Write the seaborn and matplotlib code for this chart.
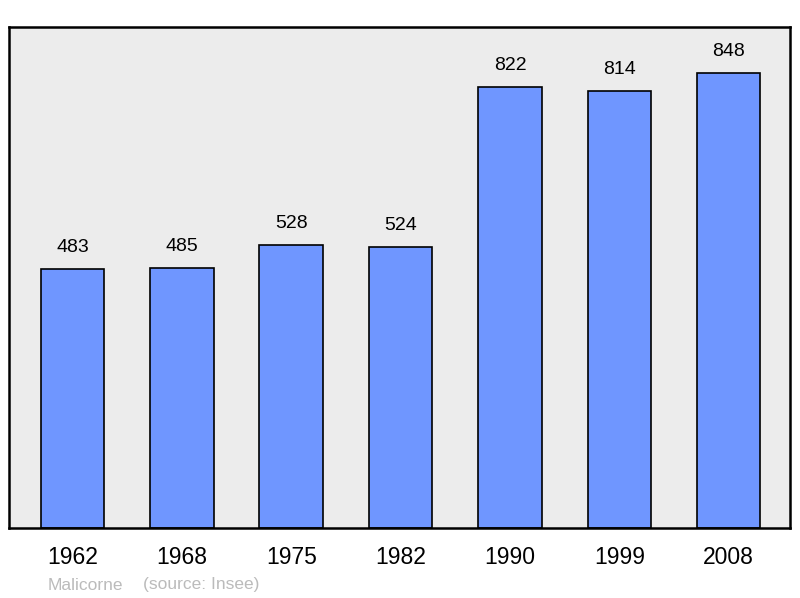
import matplotlib
matplotlib.use("Agg")
import matplotlib.pyplot as plt
import seaborn as sns
import pandas as pd

years = ["1962", "1968", "1975", "1982", "1990", "1999", "2008"]
population = [483, 485, 528, 524, 822, 814, 848]
place = "Malicorne"
source = "(source: Insee)"

sns.set_theme(style="white")
plt.rcParams['font.family'] = ['Liberation Sans', 'DejaVu Sans']

df = pd.DataFrame({"year": years, "pop": population})

fig = plt.figure(figsize=(8, 5.98), dpi=100)
ax = fig.add_axes([9/800, 1 - 528/598, 781/800, 501/598])
ax.set_facecolor("#ececec")

sns.barplot(data=df, x="year", y="pop", ax=ax, color="#6f96ff",
            saturation=1, width=0.58, edgecolor="black", linewidth=1.2)

ax.set_xlim(-0.58, 6.56)
ax.set_ylim(0, 934)
ax.set_yticks([])
ax.set_xlabel("")
ax.set_ylabel("")
ax.tick_params(axis="x", length=0, labelsize=16.5, pad=13, colors="black")
for s in ax.spines.values():
    s.set_color("black")
    s.set_linewidth(1.8)

for i, v in enumerate(population):
    ax.annotate(str(v), (i, v), xytext=(0, 15.5), textcoords="offset points",
                ha="center", va="center", fontsize=14, color="black")

fig.text(48/800, 1 - 585/598, place, fontsize=12.5, color="#bbbbbb", va="center", ha="left")
fig.text(143/800, 1 - 585/598, source, fontsize=12.5, color="#bbbbbb", va="center", ha="left")

fig.savefig("out.png", dpi=100)
